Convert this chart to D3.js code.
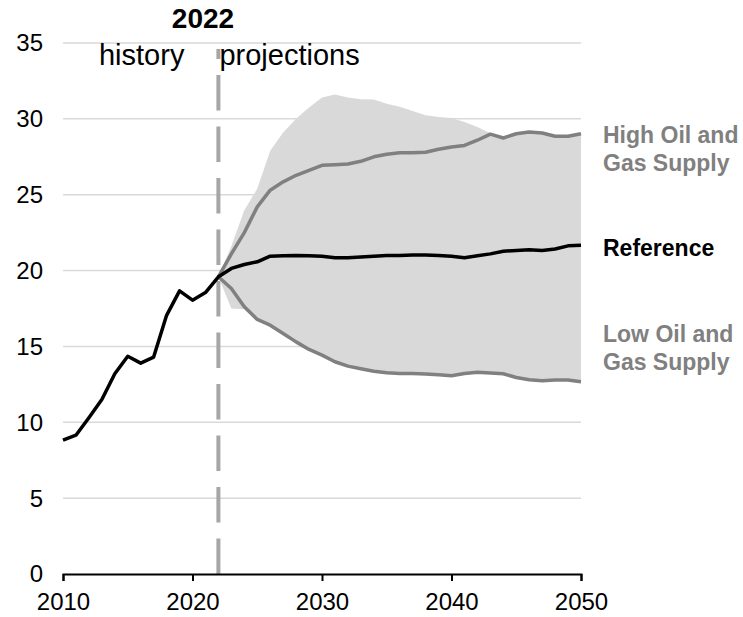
<!DOCTYPE html>
<html>
<head>
<meta charset="utf-8">
<script src="https://cdn.jsdelivr.net/npm/d3@7"></script>
<style>
  body { margin: 0; background: #fff; }
  svg { display: block; font-family: "Liberation Sans", Arial, sans-serif; }
</style>
</head>
<body>
<svg id="chart" width="743" height="617"></svg>
<script>
// History (2010-2022) and projection years (2022-2050)
const historyYears = d3.range(2010, 2023);
const projYears = d3.range(2022, 2051);

const historyValues = [8.83, 9.15, 10.3, 11.5, 13.2, 14.35, 13.9, 14.3, 17.05, 18.66, 18.05, 18.55, 19.59];

const referenceValues = [19.59, 20.14, 20.4, 20.58, 20.95, 20.97, 21.0, 20.97, 20.95, 20.84,
  20.84, 20.9, 20.95, 20.99, 21.0, 21.02, 21.02, 21.0, 20.95, 20.84,
  20.97, 21.1, 21.27, 21.33, 21.37, 21.33, 21.42, 21.63, 21.67];

const highValues = [19.59, 21.1, 22.5, 24.2, 25.3, 25.85, 26.28, 26.6, 26.94, 26.98,
  27.03, 27.2, 27.5, 27.67, 27.76, 27.76, 27.8, 28.0, 28.15, 28.25,
  28.59, 28.99, 28.74, 29.02, 29.13, 29.07, 28.85, 28.85, 29.02];

const lowValues = [19.59, 18.82, 17.61, 16.78, 16.4, 15.85, 15.3, 14.8, 14.43, 13.99,
  13.7, 13.53, 13.37, 13.26, 13.22, 13.22, 13.18, 13.13, 13.07, 13.22,
  13.3, 13.25, 13.2, 12.95, 12.8, 12.74, 12.78, 12.78, 12.67];

// Shaded range of all side cases
const bandUpper = [19.59, 21.6, 23.98, 25.4, 27.9, 29.1, 30.0, 30.75, 31.4, 31.6,
  31.4, 31.3, 31.27, 31.0, 30.79, 30.52, 30.24, 30.13, 30.06, 29.8,
  29.47, 29.05, 28.8, 29.05, 29.15, 29.1, 28.9, 28.9, 29.05];
const bandLower = [19.59, 17.5, 17.45, 16.78, 16.4, 15.85, 15.3, 14.8, 14.43, 13.99,
  13.7, 13.53, 13.37, 13.26, 13.22, 13.22, 13.18, 13.13, 13.07, 13.22,
  13.3, 13.25, 13.2, 12.95, 12.8, 12.74, 12.78, 12.78, 12.67];

const yTicks = [0, 5, 10, 15, 20, 25, 30, 35];
const xTicks = [2010, 2020, 2030, 2040, 2050];
const dividerYear = 2022;

const margin = {top: 43, right: 162, bottom: 43, left: 63};
const width = 743 - margin.left - margin.right;
const height = 617 - margin.top - margin.bottom;

const x = d3.scaleLinear().domain([2010, 2050]).range([0, width]);
const y = d3.scaleLinear().domain([0, 35]).range([height, 0]);

const svg = d3.select('#chart');
const g = svg.append('g')
  .attr('transform', `translate(${margin.left}, ${margin.top})`);

// Gridlines
g.selectAll('.grid')
  .data(yTicks.filter((d) => d > 0))
  .enter().append('line')
  .attr('class', 'grid')
  .attr('x1', 0)
  .attr('x2', width)
  .attr('y1', (d) => y(d))
  .attr('y2', (d) => y(d))
  .attr('stroke', '#d9d9d9')
  .attr('stroke-width', 1.5);

// Y labels
g.selectAll('.ylabel')
  .data(yTicks)
  .enter().append('text')
  .attr('class', 'ylabel')
  .attr('x', -20)
  .attr('y', (d) => y(d))
  .attr('dy', '0.35em')
  .attr('text-anchor', 'end')
  .attr('font-size', 24)
  .attr('fill', '#000')
  .text((d) => d);

// Band
const band = projYears.map((yr, i) => ({yr, lo: bandLower[i], hi: bandUpper[i]}));
g.append('path')
  .datum(band)
  .attr('fill', '#d9d9d9')
  .attr('d', d3.area()
    .x((d) => x(d.yr))
    .y0((d) => y(d.lo))
    .y1((d) => y(d.hi)));

// Divider
g.append('line')
  .attr('x1', x(dividerYear))
  .attr('x2', x(dividerYear))
  .attr('y1', y(0))
  .attr('y2', y(34.6))
  .attr('stroke', '#a6a6a6')
  .attr('stroke-width', 4)
  .attr('stroke-dasharray', '35.5,16');

// Lines
const line = d3.line()
  .x((d) => x(d[0]))
  .y((d) => y(d[1]));
const series = [
  {values: d3.zip(projYears, highValues), color: '#808080'},
  {values: d3.zip(projYears, lowValues), color: '#808080'},
  {values: d3.zip(historyYears, historyValues).concat(d3.zip(projYears, referenceValues).slice(1)), color: '#000'},
];
g.selectAll('.series')
  .data(series)
  .enter().append('path')
  .attr('class', 'series')
  .attr('fill', 'none')
  .attr('stroke', (d) => d.color)
  .attr('stroke-width', 3.5)
  .attr('stroke-linejoin', 'round')
  .attr('d', (d) => line(d.values));

// X axis
const xAxis = g.append('g')
  .attr('transform', `translate(0, ${height})`)
  .call(d3.axisBottom(x).tickValues(xTicks).tickFormat(d3.format('d')).tickSize(7).tickPadding(12));
xAxis.select('.domain').attr('stroke', '#000').attr('stroke-width', 2);
xAxis.selectAll('.tick line').attr('stroke', '#000').attr('stroke-width', 2);
xAxis.selectAll('.tick text')
  .attr('font-size', 24)
  .attr('font-family', '"Liberation Sans", Arial, sans-serif')
  .attr('fill', '#000');

// Header labels
svg.append('text')
  .attr('x', 203)
  .attr('y', 28)
  .attr('text-anchor', 'middle')
  .attr('font-size', 28)
  .attr('font-weight', 'bold')
  .text('2022');
svg.append('text')
  .attr('x', margin.left + x(dividerYear) - 34)
  .attr('y', 65)
  .attr('text-anchor', 'end')
  .attr('font-size', 29)
  .text('history');
svg.append('text')
  .attr('x', margin.left + x(dividerYear) + 1)
  .attr('y', 65)
  .attr('text-anchor', 'start')
  .attr('font-size', 29)
  .text('projections');

// Series labels
const labels = [
  {lines: ['High Oil and', 'Gas Supply'], y: 143, color: '#808080'},
  {lines: ['Reference'], y: 256, color: '#000'},
  {lines: ['Low Oil and', 'Gas Supply'], y: 342, color: '#808080'},
];
labels.forEach((lab) => {
  const t = svg.append('text')
    .attr('x', 603)
    .attr('y', lab.y)
    .attr('font-size', 23)
    .attr('font-weight', 'bold')
    .attr('fill', lab.color);
  lab.lines.forEach((s, i) => {
    t.append('tspan')
      .attr('x', 603)
      .attr('dy', i === 0 ? 0 : 28)
      .text(s);
  });
});
</script>
</body>
</html>
